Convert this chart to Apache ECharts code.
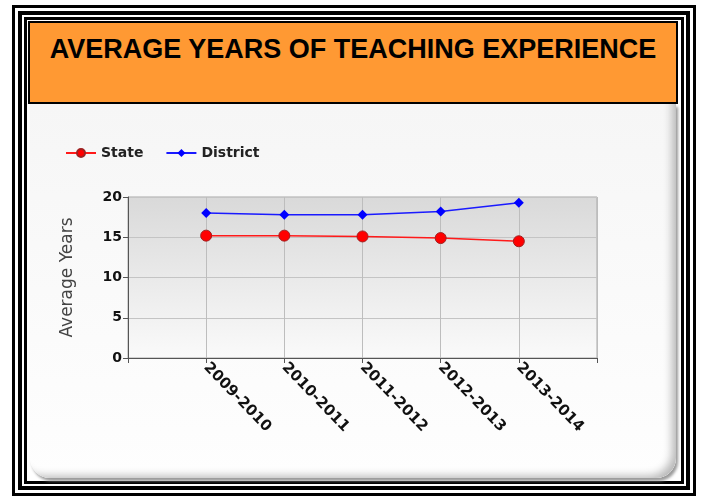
<!DOCTYPE html>
<html>
<head>
<meta charset="utf-8">
<script src="https://cdn.jsdelivr.net/npm/echarts@6/dist/echarts.min.js"></script>
<style>
  html, body { margin: 0; padding: 0; width: 701px; height: 496px; background: #fff; overflow: hidden; }
  .f1 { position: absolute; left: 12px; top: 5px; width: 684px; height: 491px; box-sizing: border-box; border: 3px solid #000; padding: 3px; background: #fff; }
  .f2 { width: 100%; height: 100%; box-sizing: border-box; border: 4px solid #000; padding: 2px; background: #fff; }
  .f3 { width: 100%; height: 100%; box-sizing: border-box; border: 3px solid #000; background: #fff; }
  .title-box { position: absolute; left: 28px; top: 21px; width: 650px; height: 83px; box-sizing: border-box; border: 2px solid #000; background: #ff9933; }
  .title-box div { position: absolute; left: 0; right: 0; top: 11px; text-align: center; font: bold 27px "Liberation Sans", Arial, sans-serif; color: #000; }
  .panel { position: absolute; left: 30px; top: 104px; width: 646px; height: 374px; background: linear-gradient(#f6f6f6, #fefefe); border-radius: 0 0 20px 20px; box-shadow: inset -8px -6px 8px -4px #b8b8b8, 2px 3px 3px #9a9a9a; }
  #main { position: absolute; left: 0; top: 0; width: 701px; height: 496px; }
</style>
</head>
<body>
<div class="f1"><div class="f2"><div class="f3"></div></div></div>
<div class="title-box"><div>AVERAGE YEARS OF TEACHING EXPERIENCE</div></div>
<div class="panel"></div>
<div id="main"></div>
<script>
// 数据
var categories = ['2009-2010', '2010-2011', '2011-2012', '2012-2013', '2013-2014'];
var stateData = [15.2, 15.2, 15.1, 14.9, 14.5];
var districtData = [18.0, 17.8, 17.8, 18.2, 19.3];
var yTicks = [0, 5, 10, 15, 20];

// 两端留空，让点落在 1..5 位置
var xData = [''].concat(categories, ['']);
function pad(arr) { return ['-'].concat(arr, ['-']); }

var myChart = echarts.init(document.getElementById('main'));
var font = '"DejaVu Sans", Verdana, sans-serif';
var option = {
  animation: false,
  legend: {
    left: 60,
    top: 141,
    itemWidth: 30,
    itemHeight: 10,
    itemGap: 22,
    textStyle: { fontFamily: font, fontSize: 14, fontWeight: 'bold', color: '#222' },
    data: ['State', 'District']
  },
  grid: {
    left: 128,
    top: 197,
    right: 104,
    bottom: 138,
    show: true,
    borderColor: '#a8a8a8',
    backgroundColor: new echarts.graphic.LinearGradient(0, 0, 0, 1, [
      { offset: 0, color: '#d9d9d9' },
      { offset: 1, color: '#fafafa' }
    ])
  },
  xAxis: {
    type: 'category',
    boundaryGap: false,
    data: xData,
    axisLine: { lineStyle: { color: '#555' } },
    axisTick: { show: true, length: 5, lineStyle: { color: '#555' } },
    axisLabel: {
      rotate: -46,
      interval: 0,
      margin: 7,
      fontFamily: font,
      fontSize: 15,
      fontWeight: 'bold',
      color: '#111'
    },
    splitLine: { show: true, lineStyle: { color: '#bdbdbd' } }
  },
  yAxis: {
    type: 'value',
    min: yTicks[0],
    max: yTicks[yTicks.length - 1],
    interval: 5,
    name: 'Average Years',
    nameLocation: 'middle',
    nameRotate: 90,
    nameGap: 52,
    nameTextStyle: { fontFamily: font, fontSize: 17, color: '#444' },
    axisLine: { show: true, lineStyle: { color: '#555' } },
    axisTick: { show: true, length: 5, lineStyle: { color: '#555' } },
    axisLabel: { fontFamily: font, fontSize: 14, fontWeight: 'bold', color: '#111', margin: 6 },
    splitLine: { show: true, lineStyle: { color: '#c4c4c4' } }
  },
  series: [
    {
      name: 'State',
      type: 'line',
      data: pad(stateData),
      symbol: 'circle',
      symbolSize: 11,
      lineStyle: { color: '#ff1a1a', width: 1.5 },
      itemStyle: { color: '#ff0000', borderColor: '#a02020', borderWidth: 1 }
    },
    {
      name: 'District',
      type: 'line',
      data: pad(districtData),
      symbol: 'diamond',
      symbolSize: 10,
      lineStyle: { color: '#1a1aff', width: 1.5 },
      itemStyle: { color: '#0000ff' }
    }
  ]
};
myChart.setOption(option);
</script>
</body>
</html>
